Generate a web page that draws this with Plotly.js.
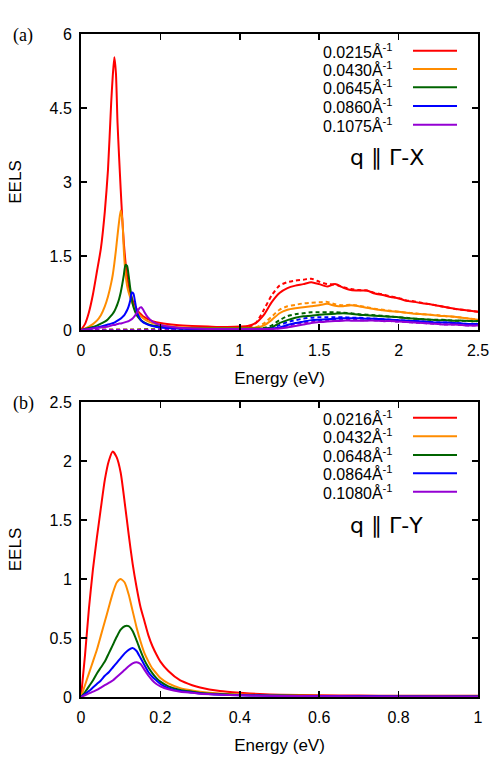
<!DOCTYPE html>
<html>
<head>
<meta charset="utf-8">
<script src="https://cdn.plot.ly/plotly-3.0.1.min.js"></script>
<style>html,body{margin:0;padding:0;background:#fff;}#chart{width:503px;height:768px;}</style>
</head>
<body>
<div id="chart"></div>
<script>
// ---------- Panel (a): q || Γ-X ----------
const energyA = [0,0.025,0.05,0.075,0.1,0.125,0.15,0.17,0.19,
  0.2,0.21,0.22,0.23,0.24,0.25,0.26,0.27,0.28,0.29,0.3,0.31,0.32,0.33,0.34,0.35,0.36,0.37,0.38,0.39,0.4,
  0.42,0.45,0.5,0.6,0.7,0.8,0.9,1.0,
  1.05,1.1,1.15,1.2,1.25,1.3,1.35,1.4,1.45,1.5,1.55,1.6,1.65,1.7,1.75,1.8,1.85,1.9,1.95,2.0,2.05,2.1,2.15,2.2,2.25,2.3,2.35,2.4,2.45,2.5];

const a_q0215 = [0,0.12,0.36,0.72,1.18,1.65,2.4,3.25,4.6,
  5.15,5.53,5.2,4.2,3.5,2.85,2.25,1.75,1.38,1.1,0.9,0.76,0.65,0.56,0.49,0.43,0.38,0.34,0.31,0.28,0.26,
  0.22,0.18,0.14,0.1,0.08,0.07,0.06,0.07,
  0.08,0.14,0.3,0.56,0.75,0.85,0.9,0.93,0.97,0.93,0.88,0.93,0.86,0.81,0.8,0.8,0.74,0.71,0.67,0.64,0.59,0.57,0.54,0.52,0.49,0.46,0.43,0.41,0.39,0.37];
const a_q0430 = [0,0.03,0.07,0.12,0.19,0.3,0.48,0.68,0.95,
  1.12,1.35,1.62,1.92,2.2,2.42,2.25,1.6,1.15,0.9,0.76,0.66,0.57,0.5,0.44,0.39,0.34,0.3,0.27,0.24,0.22,
  0.18,0.14,0.1,0.06,0.045,0.04,0.04,0.04,
  0.04,0.05,0.09,0.2,0.34,0.41,0.44,0.46,0.48,0.5,0.53,0.49,0.48,0.5,0.48,0.45,0.42,0.4,0.38,0.37,0.35,0.33,0.32,0.31,0.29,0.28,0.27,0.25,0.23,0.21];
const a_q0645 = [0,0.02,0.04,0.06,0.09,0.13,0.17,0.22,0.29,
  0.33,0.38,0.45,0.53,0.63,0.76,0.93,1.12,1.32,1.3,1.1,0.85,0.62,0.47,0.38,0.31,0.26,0.22,0.19,0.17,0.15,
  0.12,0.09,0.07,0.04,0.03,0.03,0.03,0.03,
  0.03,0.03,0.03,0.05,0.14,0.2,0.25,0.28,0.29,0.31,0.32,0.33,0.34,0.33,0.31,0.3,0.29,0.28,0.27,0.26,0.24,0.23,0.22,0.21,0.2,0.2,0.19,0.19,0.18,0.18];
const a_q0860 = [0,0.01,0.02,0.04,0.05,0.07,0.09,0.11,0.13,
  0.14,0.15,0.17,0.19,0.21,0.23,0.26,0.29,0.34,0.4,0.48,0.6,0.76,0.74,0.58,0.4,0.3,0.24,0.19,0.16,0.14,
  0.11,0.08,0.05,0.03,0.02,0.02,0.02,0.02,
  0.02,0.02,0.02,0.03,0.05,0.1,0.14,0.17,0.2,0.21,0.22,0.23,0.24,0.24,0.24,0.23,0.23,0.22,0.21,0.2,0.19,0.18,0.17,0.16,0.15,0.15,0.14,0.13,0.12,0.12];
const a_q1075 = [0,0.01,0.02,0.03,0.04,0.05,0.06,0.07,0.09,
  0.1,0.1,0.11,0.12,0.13,0.13,0.14,0.15,0.16,0.17,0.18,0.2,0.22,0.25,0.29,0.34,0.4,0.45,0.46,0.42,0.36,
  0.26,0.17,0.1,0.05,0.03,0.02,0.02,0.02,
  0.02,0.02,0.02,0.02,0.03,0.05,0.08,0.11,0.14,0.16,0.17,0.18,0.19,0.19,0.19,0.19,0.19,0.18,0.18,0.17,0.16,0.15,0.14,0.13,0.12,0.11,0.11,0.1,0.09,0.09];

// dashed curves (panel a)
const energyAD = [0,0.5,1.0,
  1.05,1.1,1.15,1.2,1.25,1.3,1.35,1.4,1.45,1.5,1.55,1.6,1.65,1.7,1.75,1.8,1.85,1.9,1.95,2.0,2.05,2.1,2.15,2.2,2.25,2.3,2.35,2.4,2.45,2.5];
const ad_q0215 = [0,0.01,0.02,
  0.05,0.14,0.4,0.7,0.9,0.97,1.0,1.02,1.04,0.98,0.93,0.92,0.87,0.83,0.81,0.8,0.75,0.72,0.68,0.65,0.6,0.58,0.55,0.52,0.49,0.46,0.43,0.41,0.39,0.37];
const ad_q0430 = [0,0.01,0.01,
  0.02,0.05,0.13,0.27,0.41,0.48,0.51,0.54,0.55,0.56,0.57,0.52,0.5,0.51,0.49,0.46,0.43,0.41,0.39,0.37,0.35,0.34,0.32,0.31,0.3,0.28,0.27,0.25,0.23,0.21];
const ad_q0645 = [0,0.01,0.01,
  0.01,0.02,0.04,0.09,0.2,0.28,0.32,0.34,0.36,0.36,0.36,0.36,0.35,0.34,0.32,0.31,0.3,0.29,0.27,0.26,0.25,0.23,0.22,0.21,0.21,0.2,0.19,0.19,0.18,0.18];
const ad_q0860 = [0,0,0.01,
  0.01,0.01,0.02,0.04,0.1,0.16,0.2,0.23,0.25,0.26,0.26,0.26,0.26,0.25,0.25,0.24,0.23,0.22,0.21,0.2,0.19,0.18,0.17,0.16,0.15,0.15,0.14,0.13,0.12,0.12];
const ad_q1075 = [0,0,0.01,
  0.01,0.01,0.01,0.02,0.04,0.08,0.12,0.15,0.17,0.19,0.2,0.21,0.21,0.21,0.2,0.2,0.2,0.19,0.18,0.17,0.16,0.15,0.14,0.13,0.12,0.11,0.11,0.1,0.09,0.09];

const labelsA = ['0.0215Å<sup>-1</sup>','0.0430Å<sup>-1</sup>','0.0645Å<sup>-1</sup>','0.0860Å<sup>-1</sup>','0.1075Å<sup>-1</sup>'];

// ---------- Panel (b): q || Γ-Y ----------
const energyB = [0,0.01,0.02,0.03,0.04,0.05,0.06,0.07,0.08,0.09,0.1,0.11,0.12,0.13,0.14,0.15,0.16,0.17,0.18,0.19,0.2,
  0.22,0.25,0.28,0.3,0.35,0.4,0.45,0.5,0.6,0.7,0.8,0.9,1.0];
const b_q0216 = [0,0.35,0.75,1.08,1.35,1.6,1.84,2.0,2.08,2.03,1.9,1.65,1.38,1.13,0.93,0.76,0.64,0.52,0.43,0.36,0.3,
  0.22,0.14,0.1,0.08,0.05,0.035,0.025,0.02,0.015,0.012,0.01,0.01,0.01];
const b_q0432 = [0,0.1,0.2,0.3,0.4,0.52,0.64,0.76,0.88,0.97,1.0,0.97,0.87,0.73,0.59,0.47,0.37,0.3,0.24,0.2,0.16,
  0.115,0.075,0.055,0.045,0.03,0.022,0.017,0.014,0.01,0.008,0.007,0.006,0.005];
const b_q0648 = [0,0.04,0.09,0.14,0.2,0.25,0.3,0.37,0.44,0.51,0.57,0.6,0.6,0.56,0.48,0.39,0.31,0.25,0.2,0.16,0.13,
  0.09,0.06,0.045,0.035,0.025,0.018,0.014,0.012,0.009,0.007,0.006,0.005,0.004];
const b_q0864 = [0,0.025,0.05,0.08,0.11,0.14,0.18,0.21,0.25,0.29,0.33,0.37,0.4,0.415,0.39,0.33,0.27,0.21,0.17,0.14,0.11,
  0.075,0.05,0.038,0.03,0.02,0.015,0.012,0.01,0.008,0.006,0.005,0.004,0.004];
const b_q1080 = [0,0.015,0.03,0.045,0.06,0.08,0.1,0.12,0.14,0.17,0.2,0.23,0.26,0.285,0.295,0.28,0.23,0.18,0.14,0.11,0.09,
  0.065,0.045,0.035,0.028,0.02,0.014,0.011,0.009,0.007,0.005,0.004,0.004,0.003];

const labelsB = ['0.0216Å<sup>-1</sup>','0.0432Å<sup>-1</sup>','0.0648Å<sup>-1</sup>','0.0864Å<sup>-1</sup>','0.1080Å<sup>-1</sup>'];

const colors = ['#ff0000','#ff8c00','#006400','#0000ff','#9400d3'];

// ---------- build ----------
const solidA = [a_q0215,a_q0430,a_q0645,a_q0860,a_q1075];
const dashA = [ad_q0215,ad_q0430,ad_q0645,ad_q0860,ad_q1075];
const solidB = [b_q0216,b_q0432,b_q0648,b_q0864,b_q1080];

const traces = [];
dashA.forEach((ys,i)=>traces.push({x:energyAD,y:ys,xaxis:'x',yaxis:'y',mode:'lines',
  line:{color:colors[i],width:2,dash:'4px,3px',shape:'spline',smoothing:0.6},hoverinfo:'skip'}));
solidA.forEach((ys,i)=>traces.push({x:energyA,y:ys,xaxis:'x',yaxis:'y',mode:'lines',name:labelsA[i],
  line:{color:colors[i],width:2,shape:'spline',smoothing:0.6}}));
solidB.forEach((ys,i)=>traces.push({x:energyB,y:ys,xaxis:'x2',yaxis:'y2',mode:'lines',name:labelsB[i],
  line:{color:colors[i],width:2,shape:'spline',smoothing:0.6}}));

// pixel -> paper helpers (plot area: x 81..478, y 34..697)
const L=81, R=478, T=34, B=697;
const px = v => (v-L)/(R-L);
const py = v => (B-v)/(B-T);

const axisCommon = {ticks:'inside',ticklen:6,tickwidth:1.5,tickcolor:'black',showline:true,linewidth:2,linecolor:'black',
  mirror:'ticks',showgrid:false,zeroline:false,tickfont:{size:16,color:'black'},automargin:false};

const annotations = [];
const shapes = [];
const legYA = [50.7,69,87.3,106,124.7];
const legYB = [417.7,436.3,455,473.3,491.7];
labelsA.forEach((t,i)=>{
  annotations.push({xref:'paper',yref:'paper',x:px(395),y:py(legYA[i]),xanchor:'right',yanchor:'middle',text:t,showarrow:false,font:{size:16,color:'black'}});
  shapes.push({type:'line',xref:'paper',yref:'paper',x0:px(413),x1:px(457),y0:py(legYA[i]),y1:py(legYA[i]),line:{color:colors[i],width:2}});
});
labelsB.forEach((t,i)=>{
  annotations.push({xref:'paper',yref:'paper',x:px(395),y:py(legYB[i]),xanchor:'right',yanchor:'middle',text:t,showarrow:false,font:{size:16,color:'black'}});
  shapes.push({type:'line',xref:'paper',yref:'paper',x0:px(413),x1:px(457),y0:py(legYB[i]),y1:py(legYB[i]),line:{color:colors[i],width:2}});
});
const qFont = {size:22,color:'black',family:'DejaVu Sans, Liberation Sans, sans-serif'};
annotations.push({xref:'paper',yref:'paper',x:px(387),y:py(157),xanchor:'center',yanchor:'middle',text:'q ∥ Γ-X',showarrow:false,font:qFont});
annotations.push({xref:'paper',yref:'paper',x:px(386),y:py(525),xanchor:'center',yanchor:'middle',text:'q ∥ Γ-Y',showarrow:false,font:qFont});
annotations.push({xref:'paper',yref:'paper',x:px(11),y:py(36),xanchor:'left',yanchor:'middle',text:'(a)',showarrow:false,font:{size:18,family:'Liberation Serif, Times New Roman, serif',color:'black'}});
annotations.push({xref:'paper',yref:'paper',x:px(11),y:py(403),xanchor:'left',yanchor:'middle',text:'(b)',showarrow:false,font:{size:18,family:'Liberation Serif, Times New Roman, serif',color:'black'}});

const layout = {
  width:503,height:768,
  margin:{l:L,r:503-R,t:T,b:768-B},
  paper_bgcolor:'white',plot_bgcolor:'white',
  showlegend:false,
  font:{family:'Liberation Sans, Arial, sans-serif',size:16,color:'black'},
  xaxis:Object.assign({},axisCommon,{domain:[0,1],anchor:'y',range:[0,2.5],tick0:0,dtick:0.5,ticklabelstandoff:5,
    title:{text:'Energy (eV)',font:{size:17},standoff:14}}),
  yaxis:Object.assign({},axisCommon,{domain:[py(330),1],anchor:'x',range:[0,6],tick0:0,dtick:1.5,ticklabelstandoff:4,
    title:{text:'EELS',font:{size:17},standoff:24}}),
  xaxis2:Object.assign({},axisCommon,{domain:[0,1],anchor:'y2',range:[0,1],tick0:0,dtick:0.2,ticklabelstandoff:5,
    title:{text:'Energy (eV)',font:{size:17},standoff:14}}),
  yaxis2:Object.assign({},axisCommon,{domain:[0,py(402)],anchor:'x2',range:[0,2.5],tick0:0,dtick:0.5,ticklabelstandoff:4,
    title:{text:'EELS',font:{size:17},standoff:24}}),
  annotations:annotations,
  shapes:shapes
};

Plotly.newPlot('chart',traces,layout,{displayModeBar:false,staticPlot:true});
</script>
</body>
</html>
